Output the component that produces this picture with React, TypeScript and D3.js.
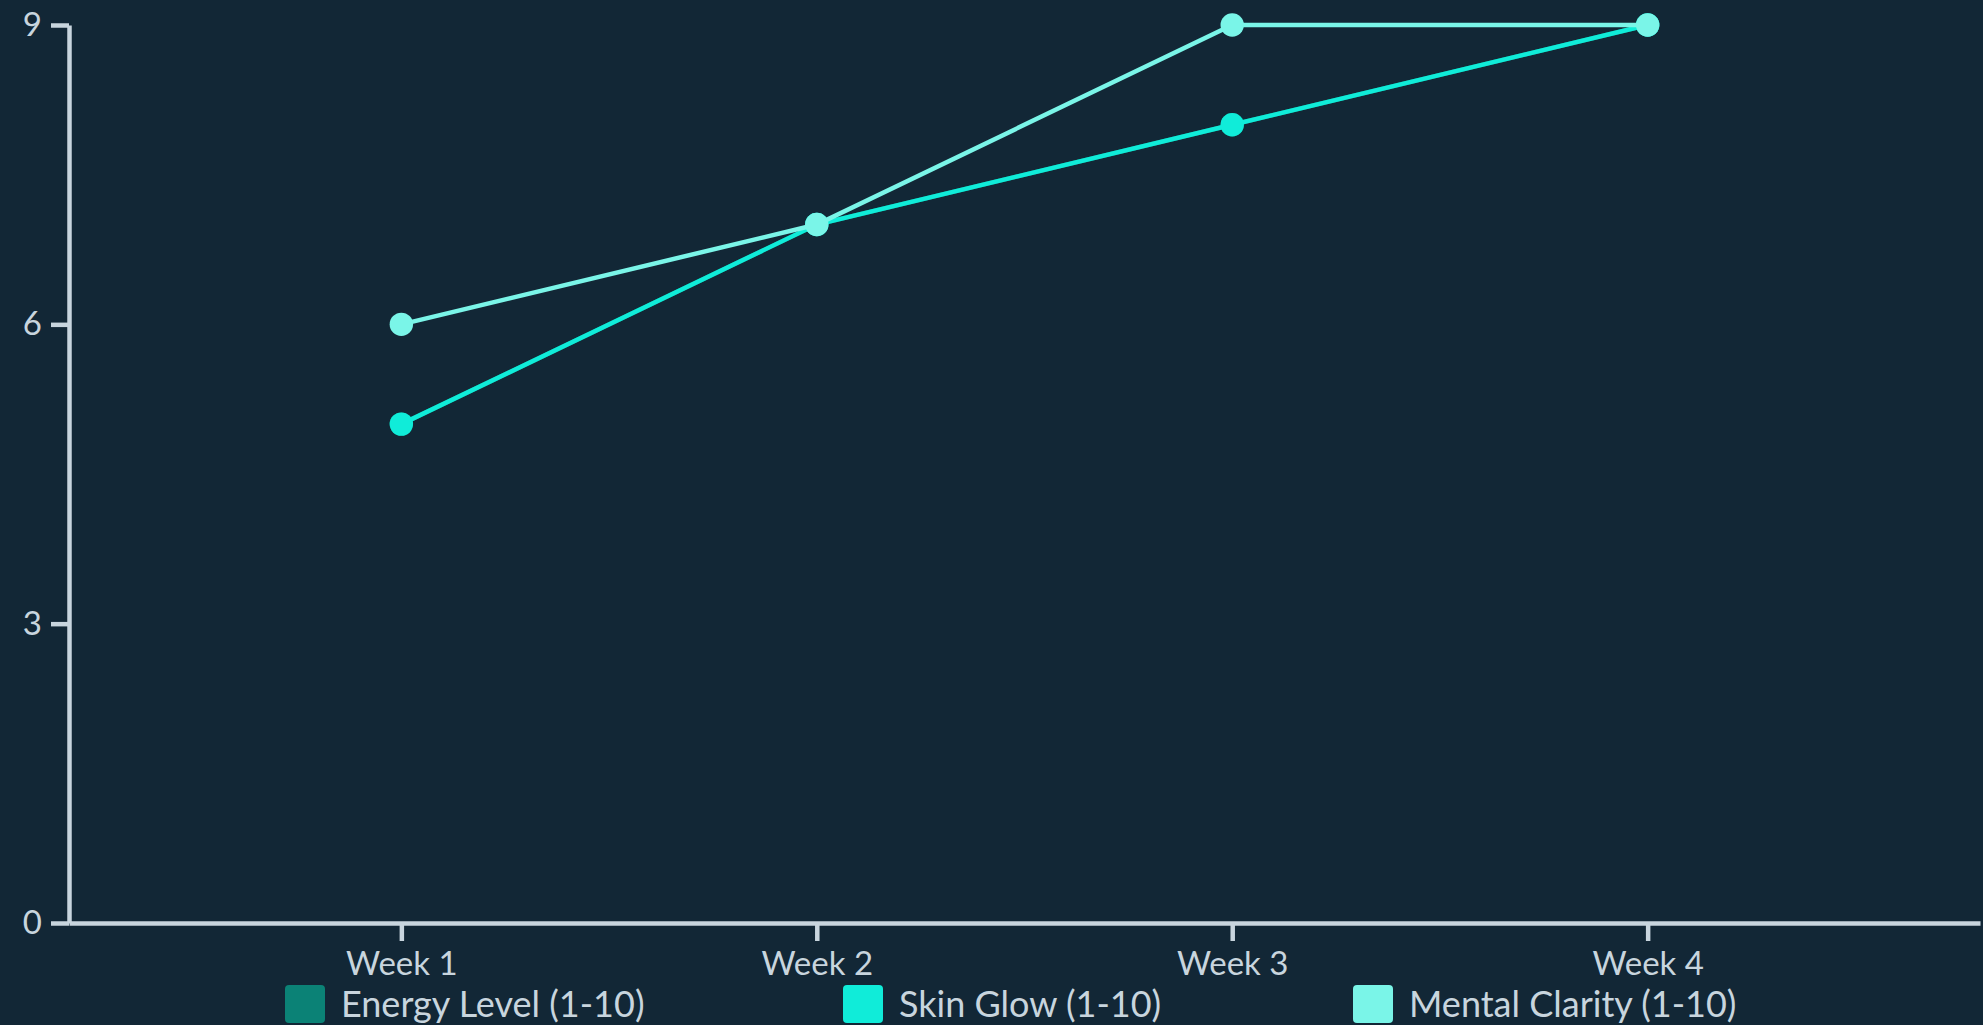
import { useEffect, useRef } from "react";
import * as d3 from "d3";

const weeks = ["Week 1", "Week 2", "Week 3", "Week 4"];
const energyLevel = [5, 7, 8, 9];
const skinGlow = [5, 7, 8, 9];
const mentalClarity = [6, 7, 9, 9];
const yTicks = [0, 3, 6, 9];

const seriesNames = ["Energy Level (1-10)", "Skin Glow (1-10)", "Mental Clarity (1-10)"];
const seriesColors = ["#0b8276", "#10ecd9", "#7af5e8"];

const W = 1983;
const H = 1025;
const BG = "#122736";
const AXIS = "#c8d5de";

const App = () => {
  const ref = useRef<SVGSVGElement | null>(null);

  useEffect(() => {
    document.body.style.margin = "0";
    document.body.style.background = BG;
    if (!ref.current) return;

    const svg = d3.select(ref.current);
    svg.selectAll("*").remove();

    const left = 69;
    const right = 1980;
    const top = 25;
    const bottom = 923;

    const x = d3.scalePoint<string>().domain(weeks).range([left, right]).padding(0.8);
    const y = d3.scaleLinear().domain([0, 9]).range([bottom, top]);

    const font = "Lato, 'Open Sans', sans-serif";

    // x axis
    const gx = svg
      .append("g")
      .attr("transform", `translate(0,${bottom})`)
      .call(d3.axisBottom(x).tickSize(18).tickSizeOuter(0).tickPadding(11));
    // y axis
    const gy = svg
      .append("g")
      .attr("transform", `translate(${left},0)`)
      .call(d3.axisLeft(y).tickValues(yTicks).tickSize(18).tickSizeOuter(0).tickPadding(9));

    [gx, gy].forEach(g => {
      g.select(".domain").attr("stroke", AXIS).attr("stroke-width", 4.5);
      g.selectAll(".tick line").attr("stroke", AXIS).attr("stroke-width", 4.5);
      g.selectAll(".tick text")
        .attr("fill", AXIS)
        .attr("font-family", font)
        .attr("font-size", 33);
    });

    const allSeries = [energyLevel, skinGlow, mentalClarity];
    const line = d3
      .line<number>()
      .x((_, i) => x(weeks[i])!)
      .y(d => y(d));

    allSeries.forEach((values, si) => {
      const g = svg.append("g");
      g.append("path")
        .attr("d", line(values)!)
        .attr("fill", "none")
        .attr("stroke", seriesColors[si])
        .attr("stroke-width", 4.5);
      g.selectAll("circle")
        .data(values)
        .enter()
        .append("circle")
        .attr("cx", (_, i) => x(weeks[i])!)
        .attr("cy", d => y(d))
        .attr("r", 11.7)
        .attr("fill", seriesColors[si]);
    });

    // legend, items left edges taken from the layout
    const legendX = [285, 843, 1353];
    const items = svg
      .append("g")
      .selectAll("g")
      .data(seriesNames)
      .enter()
      .append("g")
      .attr("transform", (_, i) => `translate(${legendX[i]},0)`);
    items
      .append("rect")
      .attr("width", 40)
      .attr("height", 38)
      .attr("y", 985)
      .attr("rx", 4)
      .attr("fill", (_, i) => seriesColors[i]);
    items
      .append("text")
      .attr("x", 56)
      .attr("y", 1017)
      .attr("fill", AXIS)
      .attr("font-family", font)
      .attr("font-size", 36)
      .text(d => d);
  }, []);

  return (
    <svg ref={ref} width={W} height={H} style={{ display: "block", background: BG }} />
  );
};

export default App;
